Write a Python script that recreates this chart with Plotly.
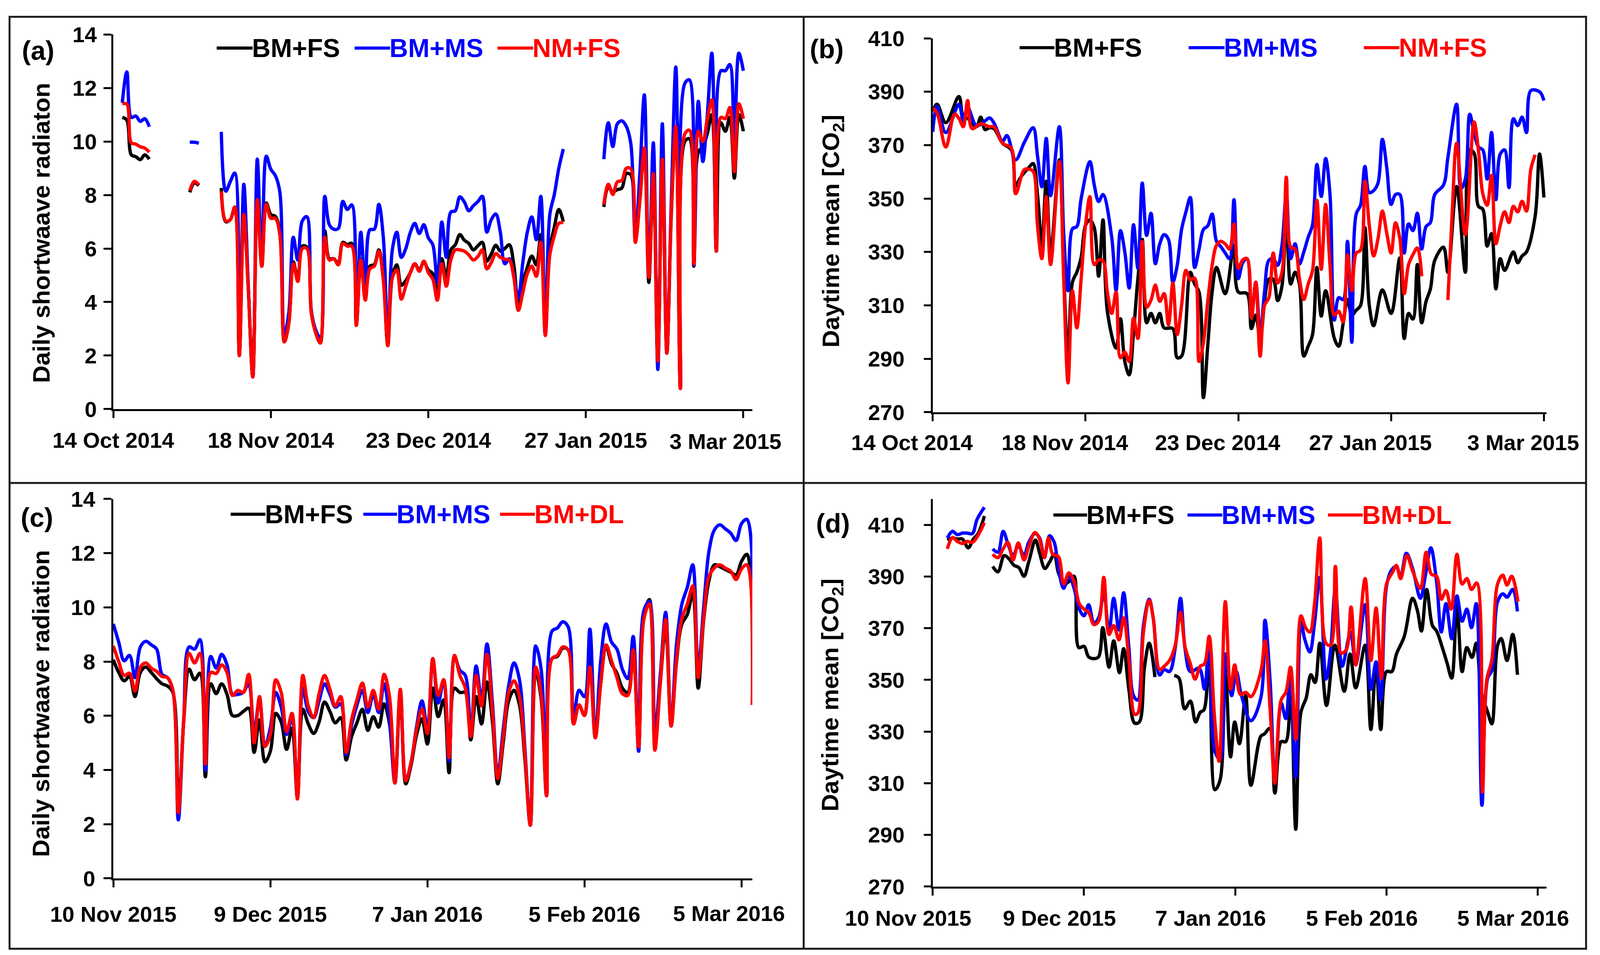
import pandas as pd
import plotly.graph_objects as go

# ---------------------------------------------------------------------------
# values (day offsets from the panel's start date)
# ---------------------------------------------------------------------------

# (a) daily shortwave radiation, winter 2014/15
a_start = "2014-10-14"
a_days = [2, 3, 4, 5, 6, 7, 8, 12, 17, 18, 19, 21] + list(range(24, 101)) + [104] + list(range(109, 141))
a_bm_fs = [10.9, 10.8, 9.5, 9.43, 9.32, 9.5, 9.34, None, 8.1, 8.45, 8.35, None,
           8.26, 7.0, 7.08, 7.55, 2.0, 7.3, 4.5, 1.2, 7.83, 5.34,
           7.7, 7.27, 7.2, 6.6, 2.51, 3.2, 5.5, 4.85, 6.09, 6.05,
           3.6, 2.84, 2.47, 6.66, 5.62, 5.62, 5.45, 6.23, 6.15, 6.19,
           3.13, 5.6, 4.1, 5.34, 5.4, 5.95, 4.9, 2.37, 4.95, 5.39,
           4.63, 4.8, 5.1, 5.43, 5.2, 5.5, 5.2, 5.06, 4.26, 5.62,
           4.92, 5.95, 6.14, 6.52, 6.31, 6.19, 5.95, 6.1, 6.23, 5.53,
           5.8, 6.12, 5.9, 6.0, 6.14, 5.39, 3.88, 4.73, 5.3, 5.72,
           5.39, 6.52, 2.8, 5.95, 6.8, 7.46, 7.0,
           None,
           7.55, 8.3, 8.12, 8.2, 8.26, 8.8, 8.75, 6.3, 7.8, 9.7,
           4.73, 8.8, 1.8, 9.34, 2.09, 7.3, 10.5, 0.77, 10.0, 10.1,
           5.34, 9.6, 9.8, 10.3, 11.0, 5.9, 10.7, 10.38, 10.9, 8.63,
           11.0, 10.38]
a_bm_ms = [11.45, 12.6, 10.9, 10.95, 10.75, 10.85, 10.55, None, 9.97, 9.97, 9.93, None,
           10.36, 8.14, 8.5, 8.82, 2.1, 8.4, 4.6, 1.2, 9.34, 5.34,
           9.45, 8.96, 8.73, 8.12, 2.75, 3.6, 6.42, 5.57, 7.03, 7.19,
           3.69, 2.95, 2.66, 7.95, 6.89, 6.72, 6.75, 7.76, 7.46, 7.63,
           3.3, 6.61, 4.44, 6.7, 6.72, 7.65, 6.42, 2.56, 5.95, 6.61,
           5.67, 6.0, 6.6, 6.94, 6.56, 6.89, 6.4, 6.14, 4.73, 6.99,
           5.67, 7.36, 7.41, 7.93, 7.74, 7.41, 7.6, 7.75, 7.95, 6.61,
           7.08, 7.29, 6.61, 5.43, 5.62, 5.0, 4.16, 5.48, 6.61, 7.18,
           6.33, 7.95, 2.84, 7.27, 8.02, 9.0, 9.72,
           None,
           9.34, 10.7, 9.81, 10.66, 10.77, 10.56, 9.91, 6.4, 8.8, 11.74,
           4.92, 9.95, 1.48, 10.66, 2.09, 7.8, 12.78, 0.77, 12.17, 12.3,
           5.39, 11.5, 9.25, 11.0, 13.3, 5.9, 12.64, 12.64, 12.87, 10.1,
           13.3, 12.64]
a_nm_fs = [11.4, 11.4, 9.95, 9.9, 9.8, 9.75, 9.6, None, 8.16, 8.51, 8.38, None,
           8.14, 7.03, 7.08, 7.55, 2.0, 7.27, 4.5, 1.2, 7.83, 5.34,
           7.66, 7.13, 7.13, 6.52, 2.51, 3.2, 5.43, 4.77, 6.0, 6.0,
           3.6, 2.84, 2.47, 6.42, 5.57, 5.62, 5.39, 6.19, 6.09, 6.09,
           3.13, 5.57, 4.07, 5.24, 5.34, 5.9, 4.82, 2.37, 4.9, 5.2,
           4.11, 4.6, 5.1, 5.43, 5.15, 5.53, 5.1, 4.85, 4.07, 5.43,
           4.59, 5.57, 5.95, 5.95, 5.9, 5.76, 5.57, 5.7, 5.95, 5.24,
           5.48, 5.81, 5.67, 5.6, 5.57, 4.92, 3.69, 4.35, 5.06, 5.34,
           4.96, 6.23, 2.75, 5.76, 6.47, 6.94, 6.97,
           None,
           7.65, 8.4, 8.02, 8.49, 8.54, 9.0, 8.98, 6.23, 7.8, 9.76,
           4.92, 8.8, 1.8, 9.34, 2.09, 7.4, 10.56, 0.77, 10.28, 10.42,
           5.43, 10.38, 10.0, 10.85, 11.55, 5.9, 10.9, 10.85, 11.27, 8.87,
           11.41, 10.85]

# (b) daytime mean CO2, winter 2014/15
b_start = "2014-10-14"
b_bm_fs_days = [0, 1, 3, 6, 7, 8, 10, 11, 12, 13, 14, 16, 18, 19, 20, 22, 23, 24, 25, 26,
                27, 29, 30, 31, 32, 33, 34, 35, 36, 37, 38, 39, 40, 42, 43, 44, 45, 46, 47, 48,
                49, 50, 51, 52, 53, 55, 56, 57, 59, 60, 61, 62, 63, 64, 65, 67, 69, 70, 72, 73,
                74, 75, 77, 78, 79, 80, 81, 82, 83, 84, 85, 86, 87, 88, 89, 90, 92, 93, 94, 95,
                96, 97, 98, 99, 100, 101, 103, 105, 107, 108, 109, 110, 111, 112, 113, 114, 115, 117, 118, 120,
                122, 123, 124, 125, 126, 127, 128, 129, 130, 131, 133, 134, 135, 136, 138, 139, 140]
b_bm_fs = [382.7, 385.3, 378.4, 388.2, 380.5, 380, 376.9, 380.5, 375.8, 376.5,
           376.2, 370.7, 368.2, 354.7, 357.6, 361.6, 363.1, 351.5, 332.5, 356.5,
           329.6, 364.5, 322.4, 290.4, 318.7, 322.4, 328, 340, 342, 339.1,
           320.9, 342, 307.8, 294, 305, 289, 284, 300, 320, 334.7,
           303.5, 307, 303.5, 307, 301.6, 301.3, 290.4, 291, 322.4, 318,
           315, 275.5, 295, 315, 324.2, 314.4, 332.5, 315, 314.4, 301.3,
           306.4, 297.6, 319.8, 319.8, 311.8, 317.3, 343.5, 318, 322.4, 318,
           291, 294.7, 299.1, 324.2, 306, 315.5, 297.6, 294.7, 303.1, 312.2,
           306.4, 308.2, 310, 339.1, 310, 302.4, 315.8, 307, 327.8, 297.6,
           307, 304.9, 325.3, 303.5, 311.5, 316.2, 326.9, 331.8, 322.4, 354.5,
           322.4, 368.2, 367, 347.1, 346, 332.2, 336.9, 316.2, 327.5, 323.1,
           330, 326, 328.5, 330, 343.5, 366.7, 350.4]
b_bm_ms_days = ([0, 1, 3, 6, 7, 8, 10, 12, 13, 14, 16, 17, 19, 21, 23, 24, 25, 26, 27, 29,
                 30, 31, 32, 33, 34, 36, 37, 38, 39] + list(range(41, 116)) + [117, 118]
                + list(range(120, 138)) + [139, 140])
b_bm_ms = [375, 384.5, 374.7, 385.3, 379, 384.2, 377.3, 379.1, 380.2, 378.4,
           371.5, 373.6, 364.5, 371.1, 376.5, 366, 354.4, 372.5, 351.1, 376.9,
           336.9, 315.5, 338.7, 339.5, 350, 363.8, 355.1, 348.9, 351.5,
           335.5, 315.5, 338, 330, 316.5, 340.2, 323.9, 355.8, 336.2, 344.5,
           325.6, 333, 336.5, 334.7, 318.7, 325, 338.4, 345, 350.4, 324.2,
           331, 338.4, 339.8, 344.2, 334, 332, 329.6, 327.5, 349.6, 320,
           326, 327.5, 305.6, 318.7, 299.1, 315, 326.9, 327.5, 325, 332.5,
           352.2, 327.5, 333.1, 325.5, 330, 335.5, 340.2, 362.8, 350.8, 365,
           351.5, 304.5, 312.9, 312.2, 334, 296.2, 344.2, 347.5, 362, 352.2,
           353, 355.8, 372.2, 361.6, 347.8, 351.5, 351.5, 329.6, 340.5, 338,
           344.5, 331.1, 339.5, 341, 351.5,
           355.1, 365.3,
           385.3, 353.7, 357.3, 381.6, 374.7, 369.3, 368.2, 357.3, 374.7, 349.6,
           366.7, 368.2, 354.1, 379.9, 377.3, 380.5, 374.7, 390.4,
           390, 386.7]
b_nm_fs_days = ([0, 1, 3, 5, 6, 7, 8, 9, 11, 13, 14, 16, 18, 19, 21, 22, 23, 24, 25, 26, 27, 29]
                + list(range(30, 113)) + [115, 118, 119, 120, 122] + list(range(124, 139)))
b_nm_fs = [383.8, 382, 369.3, 381.6, 380, 376.9, 386.7, 376.2, 378, 376.9,
           376.9, 370.7, 368.9, 351.8, 360.9, 361, 360.2, 339.8, 327.5, 350.7,
           325.3, 363.8,
           320, 281, 315.5, 301.6, 320, 340, 350.7, 325.3, 327, 326.7,
           315, 307, 315, 290.4, 292.5, 289, 305.3, 297.6, 334, 309.3,
           312, 317.6, 311.5, 314.4, 302.7, 318.4, 299.1, 310, 323.1, 319.5,
           320.2, 289, 296, 311.5, 325, 332.5, 334, 333, 331.1, 340.5,
           323.9, 327, 327.5, 305.3, 318.7, 291, 310, 312.9, 329.6, 318.4,
           322.4, 358, 331.8, 331.1, 320, 312.2, 318, 323.1, 349.3, 323.5,
           347.8, 325, 306.4, 307.8, 303.8, 328.9, 315.5, 329.6, 330.7, 356.5,
           340, 328.5, 335, 345.3, 337, 329.6, 340.9, 335, 314.4, 325.3,
           329, 331.5, 320.9,
           None, 312, 345, 370.7, 336.5,
           378.7, 368, 351.8, 347.5, 358.7, 333.1, 340, 345.1, 341, 347.1,
           345, 349, 345.3, 360.9, 366.4]

# (c) daily shortwave radiation, winter 2015/16
c_start = "2015-11-10"
c_days = list(range(0, 119))
c_bm_fs = [8.07, 7.6, 7.29, 7.45, 6.71, 7.6, 7.8, 7.6, 7.37, 7.18,
           7.1, 6.86, 2.43, 5.8, 7.72, 7.33, 7.57, 3.75, 7.18, 6.82,
           7.18, 6.79, 6.01, 6.01, 6.16, 6.28, 4.65, 5.85, 4.3, 4.69,
           6.09, 5.77, 4.76, 5.54, 2.97, 6.24, 5.7, 5.35, 5.77, 6.51,
           6.16, 5.74, 5.93, 4.37, 5.23, 5.75, 6.24, 5.46, 5.97, 5.58,
           6.44, 5.7, 3.52, 6.85, 3.49, 4.2, 5.3, 5.89, 4.96, 7.02,
           5.97, 6.59, 3.9, 7.02, 6.86, 6.86, 5.11, 6.71, 5.7, 7.25,
           5.8, 3.49, 5.0, 6.55, 6.94, 6.4, 4.4, 1.96, 7.64, 6.63,
           3.05, 8.11, 8.19, 8.5, 8.43, 5.7, 6.4, 6.01, 8.27, 5.19,
           7.18, 8.58, 7.92, 7.57, 7.02, 6.86, 8.4, 4.85, 9.7, 10.29,
           5.08, 7.2, 9.28, 5.62, 8.0, 9.39, 9.74, 10.52, 7.02, 9.5,
           11.0, 11.57, 11.5, 11.4, 11.3, 11.2, 11.7, 11.96, 6.4]
c_bm_ms = [9.39, 8.72, 8.03, 8.23, 7.41, 8.54, 8.75, 8.62, 8.46, 7.53,
           7.41, 6.94, 2.16, 5.84, 8.54, 8.46, 8.81, 3.98, 8.19, 7.76,
           8.27, 7.88, 6.79, 6.79, 6.86, 7.18, 5.39, 6.63, 4.87, 5.56,
           6.86, 6.32, 5.31, 5.93, 3.01, 7.02, 6.16, 5.93, 6.55, 7.18,
           6.79, 6.32, 6.44, 4.57, 5.66, 6.4, 6.94, 6.12, 6.79, 6.12,
           7.18, 5.85, 3.52, 6.94, 3.6, 4.3, 5.6, 6.55, 5.54, 8.11,
           6.47, 7.33, 4.34, 8.19, 7.68, 7.49, 5.31, 7.84, 6.59, 8.65,
           6.5, 3.83, 5.5, 7.1, 7.95, 7.33, 4.8, 1.96, 8.58, 7.72,
           3.05, 9.12, 9.24, 9.47, 9.28, 5.93, 6.94, 6.71, 9.2, 5.19,
           8.03, 9.39, 8.72, 8.46, 7.72, 7.37, 8.93, 4.69, 9.9, 10.21,
           5.42, 7.5, 9.82, 5.66, 8.65, 10.13, 10.75, 11.57, 7.72, 9.98,
           12.08, 12.86, 13.05, 12.9, 12.74, 12.47, 13.09, 13.25, 6.4]
c_bm_dl = [8.58, 8.0, 7.49, 7.57, 6.91, 7.8, 7.95, 7.76, 7.64, 7.45,
           7.41, 6.94, 2.43, 5.84, 8.3, 7.95, 8.3, 4.22, 7.6, 7.56,
           7.88, 7.6, 6.75, 6.94, 6.86, 7.53, 5.0, 6.71, 4.87, 5.31,
           7.33, 6.86, 5.42, 6.09, 2.93, 7.49, 6.36, 5.93, 6.82, 7.49,
           6.98, 6.36, 6.71, 4.65, 5.85, 6.6, 7.21, 6.32, 6.94, 6.24,
           7.53, 6.71, 3.52, 6.98, 3.6, 4.3, 5.5, 6.24, 5.35, 8.11,
           6.75, 7.33, 4.46, 8.23, 7.49, 7.02, 5.23, 7.49, 6.36, 8.27,
           6.2, 3.68, 5.2, 6.86, 7.29, 6.71, 4.6, 1.96, 7.8, 6.79,
           3.05, 8.11, 8.23, 8.54, 8.43, 5.7, 6.4, 6.01, 7.8, 5.19,
           7.18, 8.62, 8.03, 7.41, 6.82, 6.75, 8.43, 4.85, 9.59, 10.13,
           4.73, 7.2, 9.55, 5.62, 8.11, 9.59, 10.13, 10.79, 7.41, 9.59,
           11.14, 11.46, 11.57, 11.45, 11.34, 11.03, 11.42, 11.57, 6.4]

# (d) daytime mean CO2, winter 2015/16
d_start = "2015-11-10"
d_bm_fs_days = [2.8, 3.8, 4.7, 5.7, 6.8, 7.8, 8.7, 9.9, 10.7,
                11.5, 12.5, 13.7, 14.6, 15.6, 16.5, 17.5, 18.4, 19.7, 20.5,
                21.5, 22.4, 23.3, 24.1, 25.2, 26.1, 27.1, 28.0, 29.0, 30.0,
                31.7, 32.6, 33.8, 34.7, 35.8, 36.6, 37.6, 38.7, 39.6, 40.6,
                41.5, 42.6, 44.5, 46.3, 47.2, 48.3, 49.4, 50.4, 51.3, 52.0,
                53.0, 54.1, 55.1, 56.0, 57.1, 57.9, 58.8, 60.0, 61.0, 62.9,
                63.6, 64.6, 65.6, 66.8, 67.7, 68.6, 69.6, 70.6, 71.6, 72.5,
                73.3, 74.2, 75.5, 77.1, 78.9, 80.0, 81.1, 82.9, 84.0, 85.0,
                85.9, 87.0, 88.0, 88.9, 90.4, 92.0, 92.9, 93.7, 94.7, 95.8,
                96.6, 97.7, 98.6, 99.5, 100.5, 101.5, 102.4, 103.4, 104.2, 105.2,
                106.4, 107.2, 108.3, 109.0, 110.1, 111.2, 112.1]
d_bm_fs = [404.1, 404.9, 404.5, 404.5, 401.1, 404.5, 406.6, 413.4, None,
           393.9, 391.8, 398.1, 396.9, 394.3, 393.5, 390.1, 395.6, 404.1, 399.0,
           393.1, 395.6, 398.6, 391.4, 387.1, 388.0, 390.1, 362.5, 363.0, 358.7,
           358.7, 370.2, 354.9, 365.1, 352.8, 362.1, 346.4, 333.3, 333.7, 354.9,
           364.2, 351.1, None, 351.7, 350.7, 338.8, 341.8, 333.7, 337.5, 338.4,
           358.3, 307.5, 311.3, 360.0, 320.2, 333.7, 325.3, 343.9, 309.2, 328.2,
           329.1, 331.2, 306.2, 326.1, 326.1, 353.2, 292.2, 337.5, 343.0, 352.0,
           349.0, 364.2, 340.1, 363.4, 345.6, 360.0, 346.9, 363.4, 330.8, 356.6,
           330.8, 353.2, 353.2, 360.0, 366.8, 381.6, 377.0, 368.9, 385.0, 371.0,
           368.9, 362.5, 356.6, 350.7, 378.6, 353.2, 362.5, 358.7, 364.2, 345.0,
           337.5, 333.0, 363.4, 366.0, 357.5, 367.6, 352.0]
d_bm_ms_days = [2.8, 3.8, 4.7, 5.7, 6.6, 7.6, 8.5, 9.9, 10.7,
                11.5, 12.5, 13.5, 14.4, 15.4, 16.4, 17.5, 18.4, 19.6, 20.5,
                21.4, 22.4, 23.3, 24.1, 25.1, 26.1, 27.1, 28.1, 29.0, 29.9,
                30.9, 31.8, 32.8, 33.8, 34.7, 35.7, 36.6, 37.6, 38.5, 39.3,
                40.4, 41.5, 42.3, 43.5, 44.4, 45.4, 46.5, 47.5, 48.4, 49.4,
                51.1, 52.1, 53.0, 54.1, 55.1, 56.2, 57.3, 58.2, 59.2, 61.0,
                62.9, 63.7, 64.7, 65.6, 66.8, 67.7, 68.5, 69.6, 70.6, 71.3,
                72.3, 73.2, 74.2, 75.4, 76.3, 77.2, 78.5, 80.1, 81.1, 82.9,
                84.0, 85.0, 85.9, 87.0, 88.0, 88.9, 89.7, 90.8, 92.0, 93.5,
                94.5, 95.5, 96.6, 97.5, 98.4, 99.5, 100.5, 101.5, 102.4, 103.3,
                104.2, 105.3, 106.4, 107.2, 108.3, 109.3, 110.1, 111.2, 112.1]
d_bm_ms = [404.9, 407.5, 406.2, 406.8, 406.8, 406.6, 412.1, 416.8, None,
           400.7, 399.4, 407.5, 402.8, 398.1, 401.9, 398.1, 403.2, 406.6, 404.9,
           397.3, 405.8, 403.2, 393.1, 385.4, 390.5, 385.4, 377.4, 374.8, 379.1,
           371.9, 374.0, 383.7, 368.5, 381.6, 369.3, 383.7, 362.5, 343.9, 342.2,
           371.0, 381.2, 373.6, 351.9, 354.0, 353.2, 362.5, 381.6, 361.7, 353.2,
           354.5, 346.4, 366.8, 322.3, 319.3, 360.0, 343.9, 353.2, 343.9, 334.2,
           343.0, 373.1, 349.0, 310.8, 341.0, 335.0, 353.2, 312.5, 372.7, 365.9,
           360.8, 371.9, 389.7, 350.3, 361.7, 385.4, 355.3, 368.5, 355.8, 379.1,
           346.4, 357.0, 342.2, 386.3, 392.6, 393.9, 389.7, 399.0, 393.1, 381.6,
           390.9, 401.1, 388.0, 368.5, 379.5, 365.9, 382.5, 372.7, 377.4, 370.2,
           379.5, 301.5, 350.7, 353.6, 380.3, 383.3, 382.0, 385.0, 376.5]
d_bm_dl_days = [2.8, 3.8, 4.7, 5.7, 6.6, 7.6, 8.5, 9.9, 10.7,
                11.5, 12.5, 13.5, 14.4, 15.4, 16.4, 17.5, 18.4, 19.6, 20.5,
                21.4, 22.2, 23.0, 24.1, 25.1, 26.1, 27.1, 28.1, 29.0, 29.9,
                30.9, 31.8, 32.8, 33.8, 34.7, 35.7, 36.6, 37.6, 38.7, 39.3,
                40.4, 41.5, 42.3, 43.5, 44.4, 45.4, 46.5, 47.5, 48.4, 49.4,
                50.3, 51.3, 52.1, 53.0, 54.0, 54.9, 56.1, 57.1, 57.9, 59.0,
                60.0, 61.0, 62.9, 63.7, 64.7, 65.6, 66.8, 67.7, 68.6, 69.6,
                70.6, 71.5, 72.3, 73.2, 74.2, 75.4, 76.3, 77.2, 78.3, 79.3,
                80.2, 81.1, 82.9, 84.0, 85.0, 86.0, 87.0, 88.2, 88.9, 89.7,
                90.9, 92.0, 93.5, 94.6, 95.6, 96.6, 97.5, 98.4, 99.4, 100.5,
                101.5, 102.4, 103.3, 104.3, 105.4, 106.2, 107.2, 108.3, 109.3, 110.1,
                111.0, 112.2]
d_bm_dl = [400.7, 405.1, 403.6, 402.8, 403.6, 403.2, 405.3, 410.8, None,
           398.6, 397.3, 400.7, 403.2, 396.4, 403.0, 396.4, 401.5, 407.0, 404.5,
           397.3, 404.9, 398.6, 397.7, 387.1, 391.4, 388.0, 379.5, 377.4, 376.1,
           371.4, 372.7, 389.7, 367.6, 371.0, 365.5, 374.0, 358.3, 336.7, 337.1,
           368.5, 380.8, 373.6, 354.0, 355.3, 357.5, 363.4, 376.1, 362.5, 356.2,
           350.3, 355.3, 356.2, 366.8, 336.3, 318.5, 380.3, 346.4, 355.8, 344.3,
           345.2, 343.5, 353.2, 365.1, 338.0, 310.0, 342.2, 345.2, 354.9, 327.0,
           374.8, 370.2, 368.5, 379.5, 404.9, 364.2, 363.4, 393.9, 360.4, 361.7,
           378.2, 355.8, 389.2, 357.5, 377.8, 350.7, 387.1, 391.8, 394.3, 389.2,
           398.1, 392.2, 385.4, 399.4, 390.9, 390.1, 381.2, 384.6, 377.4, 398.6,
           387.1, 389.2, 385.0, 387.5, 306.6, 349.8, 357.9, 387.1, 390.5, 386.7,
           390.1, 380.3]

# tick labels
season1_ticks = ["2014-10-14", "2014-11-18", "2014-12-23", "2015-01-27", "2015-03-03"]
season1_text = ["14 Oct 2014", "18 Nov 2014", "23 Dec 2014", "27 Jan 2015", "3 Mar 2015"]
season2_ticks = ["2015-11-10", "2015-12-09", "2016-01-07", "2016-02-05", "2016-03-05"]
season2_text = ["10 Nov 2015", "9 Dec 2015", "7 Jan 2016", "5 Feb 2016", "5 Mar 2016"]
co2_ticks = [270, 290, 310, 330, 350, 370, 390, 410]

# ---------------------------------------------------------------------------
# layout positions below are given in pixels of the 4364 x 2444 reference;
# the figure fills the browser window (less the 8px body margin)
W, H = 4364, 2444
VW, VH = 4105, 2447          # window size in css pixels, as measured on the render
FONT = "Liberation Sans, Arial, sans-serif"
BLACK, BLUE, RED = "#000000", "#0000FF", "#FF0000"


def px(x):
    return (x / W * VW - 8) / (VW - 16)


def py(y):
    return 1 - (y / H * VH - 8) / (VH - 16)


def dates(start, days):
    return pd.Timestamp(start) + pd.to_timedelta(days, unit="D")


fig = go.Figure()

panels = [
    ("", a_start, [(a_days, a_bm_fs, BLACK), (a_days, a_bm_ms, BLUE), (a_days, a_nm_fs, RED)]),
    ("2", b_start, [(b_bm_fs_days, b_bm_fs, BLACK), (b_bm_ms_days, b_bm_ms, BLUE),
                    (b_nm_fs_days, b_nm_fs, RED)]),
    ("3", c_start, [(c_days, c_bm_fs, BLACK), (c_days, c_bm_ms, BLUE), (c_days, c_bm_dl, RED)]),
    ("4", d_start, [(d_bm_fs_days, d_bm_fs, BLACK), (d_bm_ms_days, d_bm_ms, BLUE),
                    (d_bm_dl_days, d_bm_dl, RED)]),
]
for suffix, start, series in panels:
    for days, vals, colour in series:
        fig.add_trace(go.Scatter(
            x=dates(start, days), y=vals, mode="lines",
            line=dict(color=colour, width=8.5, shape="spline", smoothing=1.0),
            connectgaps=False, showlegend=False, hoverinfo="skip",
            xaxis="x" + suffix, yaxis="y" + suffix,
        ))

tickfont = dict(family=FONT, size=56, color="black", weight="bold")
axis_common = dict(showline=True, linecolor="black", linewidth=5, ticks="outside",
                   tickcolor="black", tickwidth=5, showgrid=False, zeroline=False,
                   tickfont=tickfont, fixedrange=True, automargin=False)

left_x = [px(309), px(2052)]
right_x = [px(2544), px(4218)]

fig.update_layout(
    autosize=True, margin=dict(l=0, r=0, t=0, b=0, pad=0),
    paper_bgcolor="white", plot_bgcolor="white", showlegend=False,
    xaxis=dict(axis_common, domain=left_x, anchor="y", type="date",
               range=["2014-10-14", "2015-03-05"], tickvals=season1_ticks,
               ticktext=season1_text[:-1] + [""], ticklen=18, ticklabelstandoff=9),
    yaxis=dict(axis_common, domain=[py(1047), py(88)], anchor="x",
               range=[0, 14], dtick=2, ticklen=20, ticklabelstandoff=6),
    xaxis2=dict(axis_common, domain=right_x, anchor="y2", type="date",
                range=["2014-10-14", "2015-03-03 14:00"], tickvals=season1_ticks,
                ticktext=season1_text, ticklen=18, ticklabelstandoff=7,
                ticklabelshift=-53),
    yaxis2=dict(axis_common, domain=[py(1055), py(98)], anchor="x2",
                range=[270, 410], tickvals=co2_ticks, ticklen=18,
                ticklabelstandoff=38),
    xaxis3=dict(axis_common, domain=left_x, anchor="y3", type="date",
                range=["2015-11-10", "2016-03-07"], tickvals=season2_ticks,
                ticktext=season2_text[:-1] + [""], ticklen=18, ticklabelstandoff=21),
    yaxis3=dict(axis_common, domain=[py(2248), py(1277)], anchor="x3",
                range=[0, 14], dtick=2, ticklen=20, ticklabelstandoff=10),
    xaxis4=dict(axis_common, domain=right_x, anchor="y4", type="date",
                range=["2015-11-10", "2016-03-06 16:00"], tickvals=season2_ticks,
                ticktext=season2_text, ticklen=18, ticklabelstandoff=10,
                ticklabelshift=-63),
    yaxis4=dict(axis_common, domain=[py(2269), py(1277)], anchor="x4",
                range=[270, 420], tickvals=co2_ticks, ticklen=18, ticklabelstandoff=38),
)

# the last date label of (a) and (c) sits left of its tick, as in the original
for label, x, y in [(season1_text[-1], 1979, 1129), (season2_text[-1], 1988, 2338)]:
    fig.add_annotation(x=px(x), y=py(y), xref="paper", yref="paper", text=label,
                       showarrow=False, xanchor="center", yanchor="middle",
                       font=dict(family=FONT, size=56, color="black", weight="bold"))

# outer frame and the dividers between the four charts
frame = dict(color="#1a1a1a", width=5)
fig.add_shape(type="rect", xref="paper", yref="paper", x0=px(26), x1=px(4326),
              y0=py(2428), y1=py(43), line=frame)
fig.add_shape(type="line", xref="paper", yref="paper", x0=px(2192), x1=px(2192),
              y0=py(2428), y1=py(43), line=frame)
fig.add_shape(type="line", xref="paper", yref="paper", x0=px(26), x1=px(4326),
              y0=py(1236), y1=py(1236), line=frame)

# panel letters
for label, x, y in [("(a)", 104, 129), ("(b)", 2255, 125), ("(c)", 101, 1324), ("(d)", 2272, 1339)]:
    fig.add_annotation(x=px(x), y=py(y), xref="paper", yref="paper", text="<b>%s</b>" % label,
                       showarrow=False, xanchor="center", yanchor="middle",
                       font=dict(family=FONT, size=68, color="black"))

# y-axis titles
for text, x, y in [("Daily shortwaave radiaton", 112, 596),
                   ("Daytime mean [CO<sub>2</sub>]", 2270, 592),
                   ("Daily shortwaave radiation", 112, 1800),
                   ("Daytime mean [CO<sub>2</sub>]", 2268, 1779)]:
    fig.add_annotation(x=px(x), y=py(y), xref="paper", yref="paper", text="<b>%s</b>" % text,
                       showarrow=False, textangle=-90, xanchor="center", yanchor="middle",
                       font=dict(family=FONT, size=62, color="black"))

# legends drawn as line samples plus coloured labels
legends = [
    (123, [(591, 689, BLACK, "BM+FS"), (967, 1064, BLUE, "BM+MS"), (1357, 1454, RED, "NM+FS")]),
    (122, [(2781, 2876, BLACK, "BM+FS"), (3242, 3340, BLUE, "BM+MS"), (3720, 3817, RED, "NM+FS")]),
    (1316, [(629, 724, BLACK, "BM+FS"), (991, 1083, BLUE, "BM+MS"), (1364, 1459, RED, "BM+DL")]),
    (1318, [(2873, 2965, BLACK, "BM+FS"), (3239, 3334, BLUE, "BM+MS"), (3622, 3717, RED, "BM+DL")]),
]
for y, items in legends:
    for x0, x1, colour, name in items:
        fig.add_shape(type="line", xref="paper", yref="paper", x0=px(x0), x1=px(x1),
                      y0=py(y), y1=py(y), line=dict(color=colour, width=8))
        fig.add_annotation(x=px(x1 - 4), y=py(y), xref="paper", yref="paper",
                           text="<b>%s</b>" % name, showarrow=False, xanchor="left",
                           yanchor="middle", font=dict(family=FONT, size=66, color=colour))

fig.write_html("out.html")
